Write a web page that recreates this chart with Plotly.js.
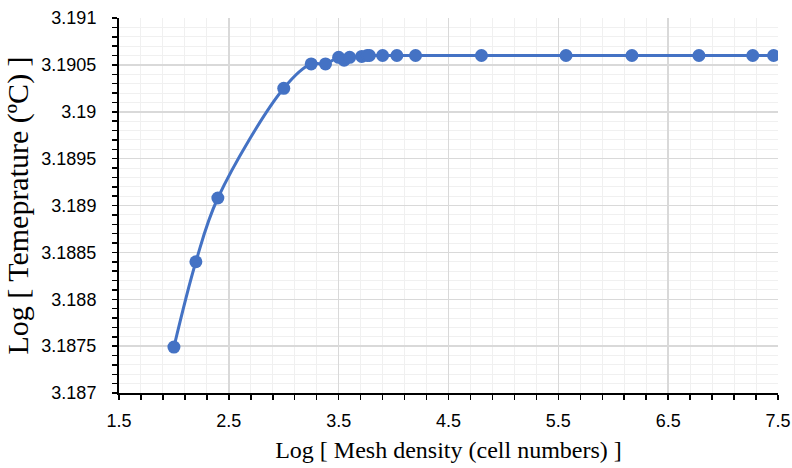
<!DOCTYPE html>
<html>
<head>
<meta charset="utf-8">
<script src="https://cdn.plot.ly/plotly-3.0.1.min.js"></script>
<style>html,body{margin:0;padding:0;background:#fff;}#chart{width:792px;height:468px;}</style>
</head>
<body>
<div id="chart"></div>
<script>
// Log of mesh density (cell numbers)
var meshLog = [2.0, 2.2, 2.4, 3.0, 3.25, 3.38, 3.5, 3.55, 3.6, 3.71, 3.76, 3.78, 3.9, 4.03, 4.2, 4.8, 5.57, 6.17, 6.78, 7.27, 7.46];
// Log of temperature
var tempLog = [3.18749, 3.18840, 3.18908, 3.19025, 3.19051, 3.19051, 3.19058, 3.19055, 3.19058, 3.19059, 3.19060, 3.19060, 3.19060, 3.19060, 3.19060, 3.19060, 3.19060, 3.19060, 3.19060, 3.19060, 3.19060];

var xTickVals = [1.5, 2.5, 3.5, 4.5, 5.5, 6.5, 7.5];
var xTickText = ['1.5', '2.5', '3.5', '4.5', '5.5', '6.5', '7.5'];
var yTickVals = [3.187, 3.1875, 3.188, 3.1885, 3.189, 3.1895, 3.19, 3.1905, 3.191];
var yTickText = ['3.187', '3.1875', '3.188', '3.1885', '3.189', '3.1895', '3.19', '3.1905', '3.191'];

var blue = '#4472C4';
var tickFont = {family: 'Liberation Sans, Arial, sans-serif', size: 18, color: '#000'};

var trace = {
  x: meshLog,
  y: tempLog,
  type: 'scatter',
  mode: 'lines+markers',
  line: {color: blue, width: 3, shape: 'spline', smoothing: 1},
  marker: {color: blue, size: 13},
  hoverinfo: 'x+y',
  showlegend: false
};

var layout = {
  width: 792,
  height: 468,
  margin: {l: 119, r: 14, t: 18, b: 75},
  paper_bgcolor: '#fff',
  plot_bgcolor: '#fff',
  xaxis: {
    range: [1.5, 7.5],
    tickmode: 'array',
    tickvals: xTickVals,
    ticktext: xTickText,
    tickfont: tickFont,
    ticks: 'outside',
    ticklen: 5,
    tickwidth: 1.5,
    tickcolor: '#000',
    ticklabelstandoff: 5,
    showline: true,
    linecolor: '#000',
    linewidth: 2,
    showgrid: true,
    gridcolor: '#d9d9d9',
    gridwidth: 1.5,
    zeroline: false,
    minor: {tick0: 1.5, dtick: 0.2, showgrid: true, gridcolor: '#f0f0f0', gridwidth: 1, ticks: 'outside', ticklen: 5, tickwidth: 1.5, tickcolor: '#000'},
    title: {text: 'Log [ Mesh density (cell numbers) ]', font: {family: 'Liberation Serif, Times New Roman, serif', size: 24, color: '#000'}, standoff: 12}
  },
  yaxis: {
    range: [3.187, 3.191],
    tickmode: 'array',
    tickvals: yTickVals,
    ticktext: yTickText,
    tickfont: tickFont,
    ticks: 'outside',
    ticklen: 5,
    tickwidth: 1.5,
    tickcolor: '#000',
    ticklabelstandoff: 12,
    showline: true,
    linecolor: '#000',
    linewidth: 2,
    showgrid: true,
    gridcolor: '#d9d9d9',
    gridwidth: 1.5,
    zeroline: false,
    minor: {tick0: 3.187, dtick: 0.0001, showgrid: true, gridcolor: '#f0f0f0', gridwidth: 1, ticks: 'outside', ticklen: 5, tickwidth: 1.5, tickcolor: '#000'},
    title: {text: 'Log [ Temeprature (ºC) ]', font: {family: 'Liberation Serif, Times New Roman, serif', size: 30, color: '#000'}, standoff: 4}
  }
};

Plotly.newPlot('chart', [trace], layout, {displayModeBar: false, staticPlot: true});
</script>
</body>
</html>
